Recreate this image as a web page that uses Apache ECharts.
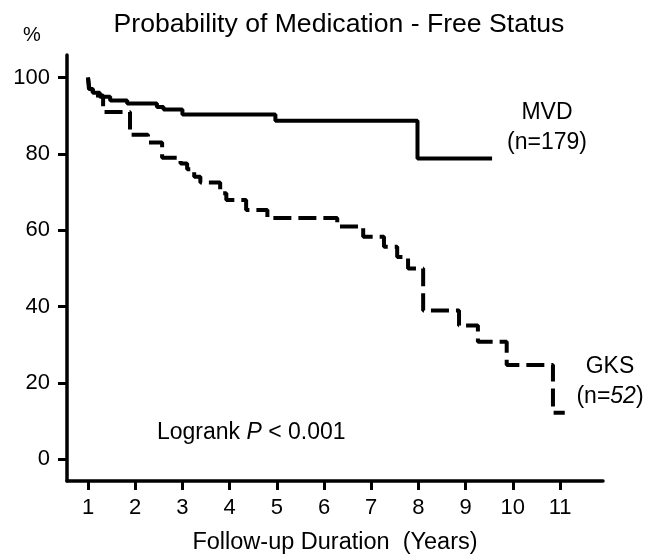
<!DOCTYPE html>
<html>
<head>
<meta charset="utf-8">
<script src="https://cdn.jsdelivr.net/npm/echarts@6/dist/echarts.min.js"></script>
<style>
html, body { margin: 0; padding: 0; background: #fff; }
#main { width: 661px; height: 555px; }
</style>
</head>
<body>
<div id="main"></div>
<script>
// 坐标刻度
let xTicks = [1, 2, 3, 4, 5, 6, 7, 8, 9, 10, 11];
let yTicks = [0, 20, 40, 60, 80, 100];

// MVD 组 (实线)
let mvdYears = [1, 1.03, 1.1, 1.25, 1.47, 1.83, 2.46, 2.6, 3.0, 4.97, 7.98, 9.56];
let mvdPct = [100, 97, 96, 95, 94, 93.2, 92.3, 91.6, 90.3, 88.7, 78.8, 78.8];

// GKS 组 (虚线)
let gksYears = [1, 1.02, 1.1, 1.32, 1.89, 2.27, 2.57, 2.96, 3.1, 3.25, 3.38, 3.8, 3.93, 4.35, 4.8,
    6.28, 6.83, 7.27, 7.55, 7.78, 8.1, 8.86, 9.26, 9.87, 10.85, 11.1];
let gksPct = [100, 97, 95.3, 91, 85, 83, 79, 77.5, 76, 74, 72.5, 69.7, 67.9, 65.3, 63.2,
    61, 58.3, 55.7, 53, 50, 39, 35.1, 30.8, 24.7, 12.2, 12.2];

function toPairs(xs, ys) {
    let arr = [];
    for (let i = 0; i < xs.length; i++) {
        arr.push([xs[i], ys[i]]);
    }
    return arr;
}

let font = 'Liberation Sans, Arial, sans-serif';
let chart = echarts.init(document.getElementById('main'));

chart.setOption({
    animation: false,
    title: {
        text: 'Probability of Medication - Free Status',
        left: 334,
        top: 6,
        textAlign: 'center',
        textStyle: { fontFamily: font, fontSize: 26.6, fontWeight: 'normal', color: '#000' }
    },
    grid: { left: 67, right: 58, top: 55, bottom: 74, outerBoundsMode: 'none', containLabel: false },
    xAxis: {
        type: 'value',
        min: 0.555,
        max: 11.91,
        splitLine: { show: false },
        axisLine: { onZero: false, lineStyle: { color: '#000', width: 3.5 } },
        axisTick: {
            customValues: xTicks,
            length: 9,
            lineStyle: { color: '#000', width: 3 }
        },
        axisLabel: {
            customValues: xTicks,
            margin: 16,
            fontFamily: font,
            fontSize: 22,
            color: '#000'
        },
        name: 'Follow-up Duration  (Years)',
        nameLocation: 'middle',
        nameGap: 50,
        nameTextStyle: { fontFamily: font, fontSize: 23.5, color: '#000' }
    },
    yAxis: {
        type: 'value',
        min: -5.65,
        max: 105.9,
        splitLine: { show: false },
        axisLine: { show: true, onZero: false, lineStyle: { color: '#000', width: 3.5 } },
        axisTick: {
            show: true,
            customValues: yTicks,
            length: 9,
            lineStyle: { color: '#000', width: 3 }
        },
        axisLabel: {
            customValues: yTicks,
            margin: 17,
            fontFamily: font,
            fontSize: 22,
            color: '#000'
        }
    },
    graphic: [
        {
            type: 'text', x: 32, y: 35,
            style: {
                text: '%', font: '20px ' + font, fill: '#000',
                align: 'center', verticalAlign: 'middle'
            }
        },
        {
            type: 'text', x: 547, y: 128,
            style: {
                text: 'MVD\n(n=179)', font: '23px ' + font, fill: '#000',
                align: 'center', verticalAlign: 'middle', lineHeight: 30
            }
        },
        {
            type: 'text', x: 610, y: 382,
            style: {
                text: 'GKS\n(n={i|52})', font: '23px ' + font, fill: '#000',
                align: 'center', verticalAlign: 'middle', lineHeight: 30,
                rich: { i: { fontStyle: 'italic', fontSize: 23, fontFamily: font } }
            }
        },
        {
            type: 'text', x: 157, y: 433,
            style: {
                text: 'Logrank {i|P} < 0.001', font: '23px ' + font, fill: '#000',
                verticalAlign: 'middle',
                rich: { i: { fontStyle: 'italic', fontSize: 23, fontFamily: font } }
            }
        }
    ],
    series: [
        {
            name: 'MVD',
            type: 'line',
            step: 'end',
            symbol: 'none',
            data: toPairs(mvdYears, mvdPct),
            lineStyle: { color: '#000', width: 4 }
        },
        {
            name: 'GKS',
            type: 'line',
            step: 'end',
            symbol: 'none',
            data: toPairs(gksYears, gksPct),
            lineStyle: { color: '#000', width: 4, type: [18, 7] }
        }
    ]
});
</script>
</body>
</html>
